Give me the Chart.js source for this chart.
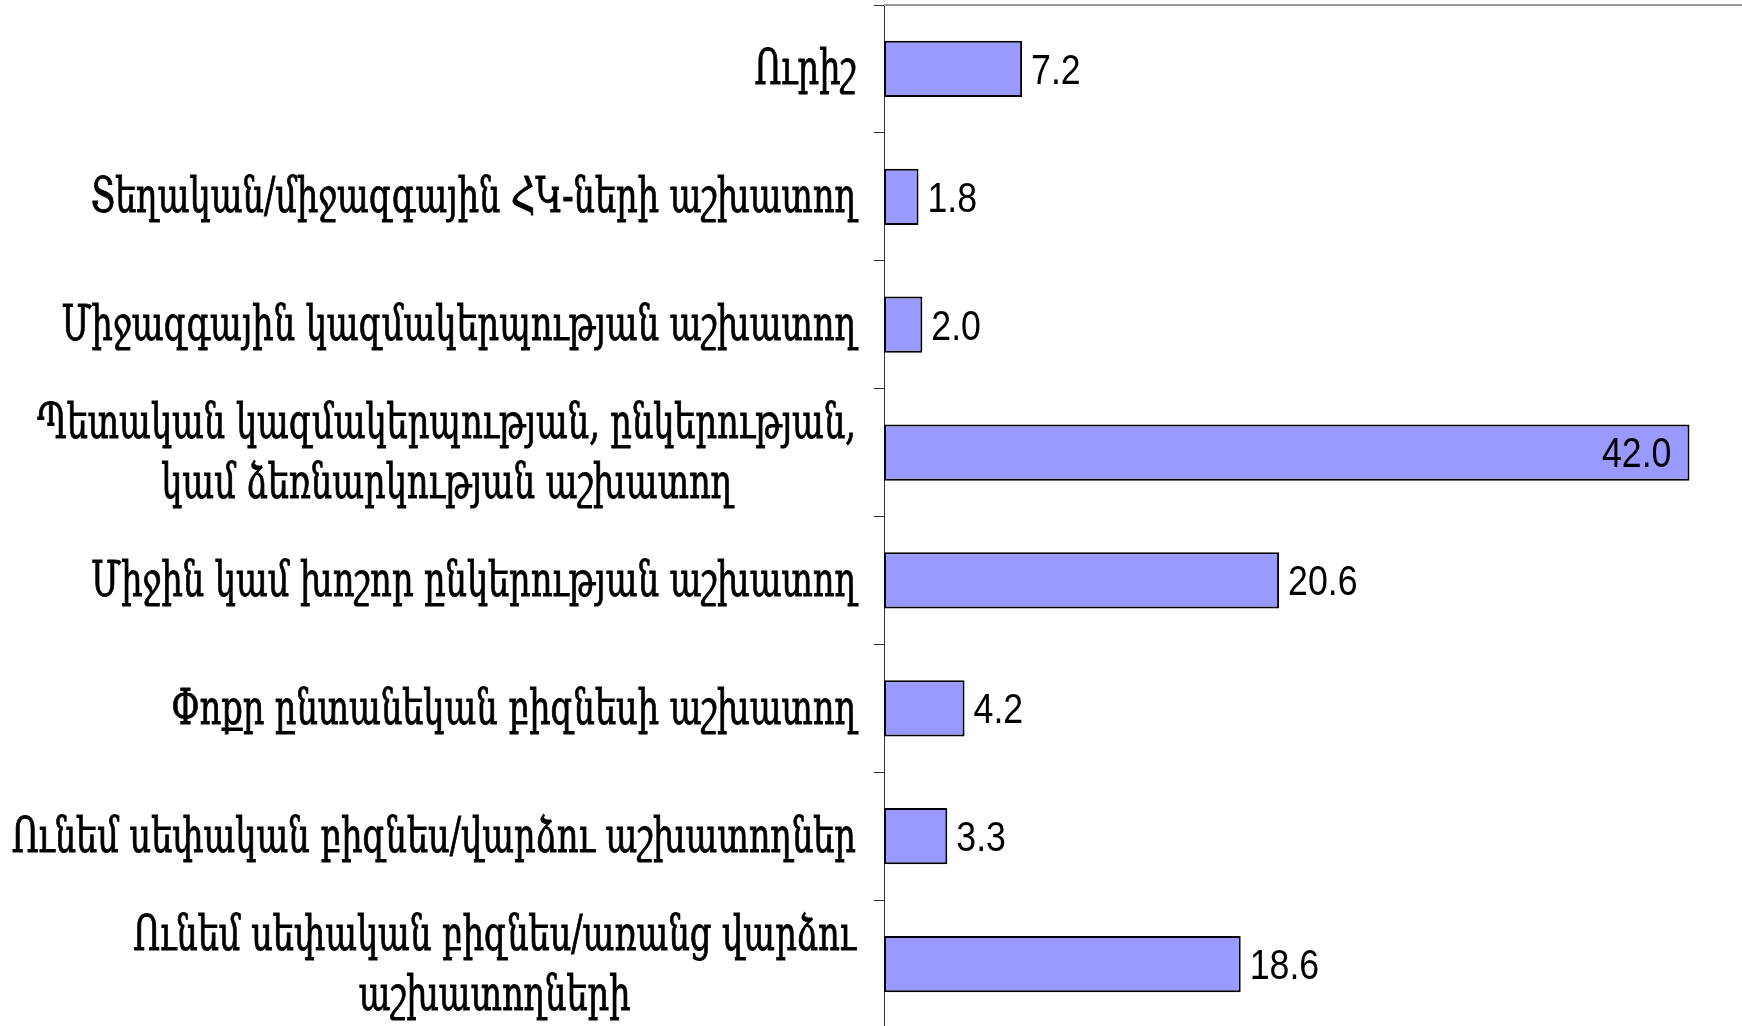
<!DOCTYPE html>
<html>
<head>
<meta charset="utf-8">
<script src="https://cdn.jsdelivr.net/npm/chart.js@4.4.1/dist/chart.umd.min.js"></script>
<style>
  html, body { margin: 0; padding: 0; background: #ffffff; overflow: hidden; width: 1742px; height: 1026px; }
  #wrap { position: absolute; left: 0; top: 0; width: 1747px; height: 1028px; }
</style>
</head>
<body>
<div id="wrap"><canvas id="c" width="1747" height="1028"></canvas></div>
<script>
// ---- data ----
const categories = [
  "Ուրիշ",
  "Տեղական/միջազգային ՀԿ-ների աշխատող",
  "Միջազգային կազմակերպության աշխատող",
  ["Պետական կազմակերպության, ընկերության,", "կամ ձեռնարկության աշխատող"],
  "Միջին կամ խոշոր ընկերության աշխատող",
  "Փոքր ընտանեկան բիզնեսի աշխատող",
  "Ունեմ սեփական բիզնես/վարձու աշխատողներ",
  ["Ունեմ սեփական բիզնես/առանց վարձու", "աշխատողների"]
];
const values = [7.2, 1.8, 2.0, 42.0, 20.6, 4.2, 3.3, 18.6];
const xMin = 0;
const xMax = 45;

// ---- styles ----
const LABEL_FONT = '48px "DejaVu Serif", serif';
const LABEL_SX = 0.70;
const VALUE_FONT = '43px "Liberation Sans", Arial, sans-serif';
const VALUE_SX = 0.83;

function drawScaledText(ctx, txt, x, y, align, sx, strokeW) {
  ctx.save();
  ctx.translate(x, y);
  ctx.scale(sx, 1);
  ctx.textAlign = align;
  ctx.fillText(txt, 0, 0);
  if (strokeW) {
    ctx.lineWidth = strokeW;
    ctx.strokeStyle = ctx.fillStyle;
    ctx.strokeText(txt, 0, 0);
  }
  ctx.restore();
}

const topBorder = {
  id: 'topBorder',
  afterDraw(chart) {
    const ctx = chart.ctx, a = chart.chartArea;
    ctx.save();
    ctx.strokeStyle = '#9a9a9a';
    ctx.lineWidth = 2;
    ctx.beginPath();
    ctx.moveTo(a.left, a.top);
    ctx.lineTo(a.right, a.top);
    ctx.stroke();
    ctx.restore();
  }
};

const catLabels = {
  id: 'catLabels',
  afterDraw(chart) {
    const ctx = chart.ctx;
    const ys = chart.scales.y;
    const rightEdge = ys.right - 28;
    ctx.save();
    ctx.font = LABEL_FONT;
    ctx.fillStyle = '#000';
    ctx.textBaseline = 'middle';
    const lh = 60;
    chart.data.labels.forEach((lab, i) => {
      const lines = Array.isArray(lab) ? lab : [lab];
      const w = Math.max(...lines.map(l => ctx.measureText(l).width)) * LABEL_SX;
      const cx = rightEdge - w / 2;
      const cy = ys.getPixelForValue(i) + 3;
      lines.forEach((l, k) => {
        drawScaledText(ctx, l, cx, cy + (k - (lines.length - 1) / 2) * lh, 'center', LABEL_SX, 0.9);
      });
    });
    ctx.restore();
  }
};

const valueLabels = {
  id: 'valueLabels',
  afterDatasetsDraw(chart) {
    const ctx = chart.ctx;
    const meta = chart.getDatasetMeta(0);
    ctx.save();
    ctx.font = VALUE_FONT;
    ctx.fillStyle = '#000';
    ctx.textBaseline = 'middle';
    meta.data.forEach((el, i) => {
      const txt = chart.data.datasets[0].data[i].toFixed(1);
      const w = ctx.measureText(txt).width * VALUE_SX;
      if (el.x + 9 + w > 1742) {
        drawScaledText(ctx, txt, el.x - 18, el.y + 3, 'right', VALUE_SX, 0);
      } else {
        drawScaledText(ctx, txt, el.x + 9, el.y + 3, 'left', VALUE_SX, 0);
      }
    });
    ctx.restore();
  }
};

new Chart(document.getElementById('c'), {
  type: 'bar',
  data: {
    labels: categories,
    datasets: [{
      data: values,
      backgroundColor: '#9999ff',
      borderColor: '#000000',
      borderWidth: 2,
      borderSkipped: false,
      barPercentage: 0.44,
      categoryPercentage: 1.0
    }]
  },
  options: {
    indexAxis: 'y',
    responsive: false,
    devicePixelRatio: 1,
    animation: false,
    events: [],
    layout: { padding: { top: 5, left: 0, right: 0, bottom: 0 } },
    plugins: { legend: { display: false }, tooltip: { enabled: false } },
    scales: {
      x: {
        display: false,
        min: xMin,
        max: xMax
      },
      y: {
        afterFit(scale) { scale.width = 884; },
        grid: {
          offset: true,
          drawOnChartArea: false,
          drawTicks: true,
          tickLength: 10,
          color: '#333333',
          lineWidth: 1
        },
        border: { display: true, color: '#333333', width: 1 },
        ticks: { display: false }
      }
    }
  },
  plugins: [topBorder, catLabels, valueLabels]
});
</script>
</body>
</html>
